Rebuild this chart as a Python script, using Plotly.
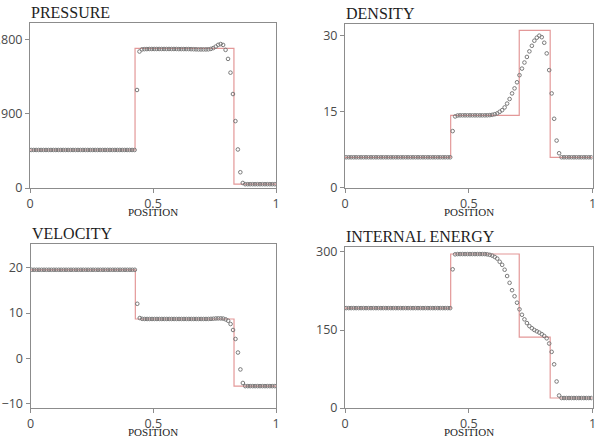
import plotly.graph_objects as go

# ---------------- data ----------------
POSITION = [
    0.005, 0.015, 0.025, 0.035, 0.045, 0.055, 0.065, 0.075, 0.085, 0.095,
    0.105, 0.115, 0.125, 0.135, 0.145, 0.155, 0.165, 0.175, 0.185, 0.195,
    0.205, 0.215, 0.225, 0.235, 0.245, 0.255, 0.265, 0.275, 0.285, 0.295,
    0.305, 0.315, 0.325, 0.335, 0.345, 0.355, 0.365, 0.375, 0.385, 0.395,
    0.405, 0.415, 0.425, 0.435, 0.445, 0.455, 0.465, 0.475, 0.485, 0.495,
    0.505, 0.515, 0.525, 0.535, 0.545, 0.555, 0.565, 0.575, 0.585, 0.595,
    0.605, 0.615, 0.625, 0.635, 0.645, 0.655, 0.665, 0.675, 0.685, 0.695,
    0.705, 0.715, 0.725, 0.735, 0.745, 0.755, 0.765, 0.775, 0.785, 0.795,
    0.805, 0.815, 0.825, 0.835, 0.845, 0.855, 0.865, 0.875, 0.885, 0.895,
    0.905, 0.915, 0.925, 0.935, 0.945, 0.955, 0.965, 0.975, 0.985, 0.995,
]

PRESSURE_NUM = [
    460.9, 460.9, 460.9, 460.9, 460.9, 460.9, 460.9, 460.9, 460.9, 460.9,
    460.9, 460.9, 460.9, 460.9, 460.9, 460.9, 460.9, 460.9, 460.9, 460.9,
    460.9, 460.9, 460.9, 460.9, 460.9, 460.9, 460.9, 460.9, 460.9, 460.9,
    460.9, 460.9, 460.9, 460.9, 460.9, 460.9, 460.9, 460.9, 460.9, 460.9,
    460.9, 460.9, 460.9, 1188, 1654, 1680, 1683, 1684, 1685, 1685,
    1685, 1685, 1685, 1685, 1685, 1685, 1685, 1685, 1685, 1685,
    1684, 1684, 1684, 1684, 1684, 1683, 1682, 1681, 1680, 1680,
    1680, 1680, 1681, 1686, 1696, 1714, 1735, 1745, 1734, 1674,
    1565, 1398, 1139, 811, 467, 191, 61, 46.1, 46.1, 46.1,
    46.1, 46.1, 46.1, 46.1, 46.1, 46.1, 46.1, 46.1, 46.1, 46.1,
]

DENSITY_NUM = [
    6.0, 6.0, 6.0, 6.0, 6.0, 6.0, 6.0, 6.0, 6.0, 6.0,
    6.0, 6.0, 6.0, 6.0, 6.0, 6.0, 6.0, 6.0, 6.0, 6.0,
    6.0, 6.0, 6.0, 6.0, 6.0, 6.0, 6.0, 6.0, 6.0, 6.0,
    6.0, 6.0, 6.0, 6.0, 6.0, 6.0, 6.0, 6.0, 6.0, 6.0,
    6.0, 6.0, 6.0, 11.17, 14.06, 14.25, 14.28, 14.28, 14.28, 14.28,
    14.28, 14.28, 14.28, 14.28, 14.28, 14.28, 14.28, 14.29, 14.32, 14.38,
    14.5, 14.66, 14.98, 15.3, 15.84, 16.6, 17.5, 18.6, 19.6, 20.8,
    22.2, 23.5, 24.7, 25.8, 26.9, 28.0, 29.0, 29.6, 30.0, 29.7,
    28.6, 26.5, 23.2, 18.6, 13.6, 9.3, 6.8, 6.0, 6.0, 6.0,
    6.0, 6.0, 6.0, 6.0, 6.0, 6.0, 6.0, 6.0, 6.0, 6.0,
]

VELOCITY_NUM = [
    19.6, 19.6, 19.6, 19.6, 19.6, 19.6, 19.6, 19.6, 19.6, 19.6,
    19.6, 19.6, 19.6, 19.6, 19.6, 19.6, 19.6, 19.6, 19.6, 19.6,
    19.6, 19.6, 19.6, 19.6, 19.6, 19.6, 19.6, 19.6, 19.6, 19.6,
    19.6, 19.6, 19.6, 19.6, 19.6, 19.6, 19.6, 19.6, 19.6, 19.6,
    19.6, 19.6, 19.6, 12.06, 8.9, 8.72, 8.69, 8.69, 8.69, 8.69,
    8.69, 8.69, 8.69, 8.69, 8.69, 8.69, 8.69, 8.69, 8.69, 8.69,
    8.69, 8.69, 8.69, 8.69, 8.69, 8.69, 8.69, 8.69, 8.69, 8.69,
    8.69, 8.69, 8.7, 8.72, 8.75, 8.8, 8.82, 8.82, 8.78, 8.6,
    8.3, 7.57, 6.25, 4.26, 1.25, -2.5, -5.5, -6.2, -6.2, -6.2,
    -6.2, -6.2, -6.2, -6.2, -6.2, -6.2, -6.2, -6.2, -6.2, -6.2,
]

ENERGY_NUM = [
    192.1, 192.1, 192.1, 192.1, 192.1, 192.1, 192.1, 192.1, 192.1, 192.1,
    192.1, 192.1, 192.1, 192.1, 192.1, 192.1, 192.1, 192.1, 192.1, 192.1,
    192.1, 192.1, 192.1, 192.1, 192.1, 192.1, 192.1, 192.1, 192.1, 192.1,
    192.1, 192.1, 192.1, 192.1, 192.1, 192.1, 192.1, 192.1, 192.1, 192.1,
    192.1, 192.1, 192.1, 266.7, 295.5, 296.0, 296.0, 296.0, 296.0, 296.0,
    296.0, 296.0, 296.0, 296.0, 296.0, 296.0, 296.0, 295.5, 294.5, 293.0,
    290.5, 287.3, 281.2, 275.3, 265.9, 253.8, 240.7, 226.5, 214.9, 202.5,
    189.8, 179.3, 170.5, 163.3, 157.5, 153.5, 150.0, 147.5, 145.0, 142.0,
    138.5, 134.0, 124.0, 108.0, 84.0, 51.0, 24.0, 19.2, 19.2, 19.2,
    19.2, 19.2, 19.2, 19.2, 19.2, 19.2, 19.2, 19.2, 19.2, 19.2,
]

# exact solution (piecewise constant, step "hv")
EXACT_X = [0.0, 0.427, 0.704, 0.829, 1.0]
PRESSURE_EXACT = [460.9, 1691.6, 1691.6, 46.1, 46.1]
DENSITY_EXACT = [6.0, 14.28, 31.04, 5.99, 5.99]
VELOCITY_EXACT = [19.6, 8.69, 8.69, -6.2, -6.2]
ENERGY_EXACT = [192.1, 296.1, 136.2, 19.2, 19.2]

TITLES = ["PRESSURE", "DENSITY", "VELOCITY", "INTERNAL ENERGY"]
X_TICKS = [0, 0.5, 1]
Y_TICKS = [[0, 900, 1800], [0, 15, 30], [-10, 0, 10, 20], [0, 150, 300]]

# ---------------- figure ----------------
W, H = 600, 442
def px(x):
    return x / W
def py(y):
    return 1 - y / H

# panel boxes in pixels: left, right, top, bottom
BOXES = [
    (30, 276, 23, 188),
    (345, 592.5, 24, 187.7),
    (30.5, 276, 244.3, 408),
    (345, 592.5, 247, 408),
]
Y_RANGES = [[0, 2000], [0, 32.3], [-11.05, 25.25], [0, 309.6]]

series = [
    (PRESSURE_EXACT, PRESSURE_NUM),
    (DENSITY_EXACT, DENSITY_NUM),
    (VELOCITY_EXACT, VELOCITY_NUM),
    (ENERGY_EXACT, ENERGY_NUM),
]

LINE_COL = "#e39898"
AX_COL = "#8c8c8c"
TICK_FONT = dict(family="Open Sans, DejaVu Sans, sans-serif", size=12.5, color="#4a4a4a")
SERIF = "Liberation Serif, DejaVu Serif, serif"

fig = go.Figure()
layout = dict(
    width=W, height=H,
    margin=dict(l=0, r=0, t=0, b=0, autoexpand=False),
    paper_bgcolor="white", plot_bgcolor="white",
    showlegend=False,
    annotations=[],
)

for k, ((ex, num), (l, r, t, b)) in enumerate(zip(series, BOXES)):
    n = k + 1
    xa = "x" if n == 1 else f"x{n}"
    ya = "y" if n == 1 else f"y{n}"
    fig.add_trace(go.Scatter(
        x=EXACT_X, y=ex, mode="lines", line=dict(color=LINE_COL, width=1.2, shape="hv"),
        xaxis=xa, yaxis=ya, hoverinfo="skip",
    ))
    fig.add_trace(go.Scatter(
        x=POSITION, y=num, mode="markers",
        marker=dict(symbol="circle-open", size=3.6, color="#7a7a7a", line=dict(width=1)),
        xaxis=xa, yaxis=ya,
    ))
    axcommon = dict(
        showline=True, mirror=True, linecolor=AX_COL, linewidth=1,
        ticks="outside", ticklen=4, tickcolor=AX_COL, tickwidth=1,
        showgrid=False, zeroline=False, tickfont=TICK_FONT, automargin=False,
    )
    layout["xaxis" if n == 1 else f"xaxis{n}"] = dict(
        domain=[px(l), px(r)], range=[0, 1], tickvals=X_TICKS,
        anchor=ya, ticklabelstandoff=0, **axcommon,
    )
    layout["yaxis" if n == 1 else f"yaxis{n}"] = dict(
        domain=[py(b), py(t)], range=Y_RANGES[k], tickvals=Y_TICKS[k],
        tickformat=",", anchor=xa, **axcommon,
    )
    # title
    layout["annotations"].append(dict(
        text=TITLES[k], xref="paper", yref="paper",
        x=px(l - 1), y=py(t - 11), xanchor="left", yanchor="middle",
        showarrow=False, font=dict(family=SERIF, size=16, color="#1e1e1e"),
    ))
    # x-axis title
    layout["annotations"].append(dict(
        text="POSITION", xref="paper", yref="paper",
        x=px((l + r) / 2), y=py(b + 24), xanchor="center", yanchor="middle",
        showarrow=False, font=dict(family=SERIF, size=11, color="#1e1e1e"),
    ))

fig.update_layout(**layout)
fig.write_html("out.html")
